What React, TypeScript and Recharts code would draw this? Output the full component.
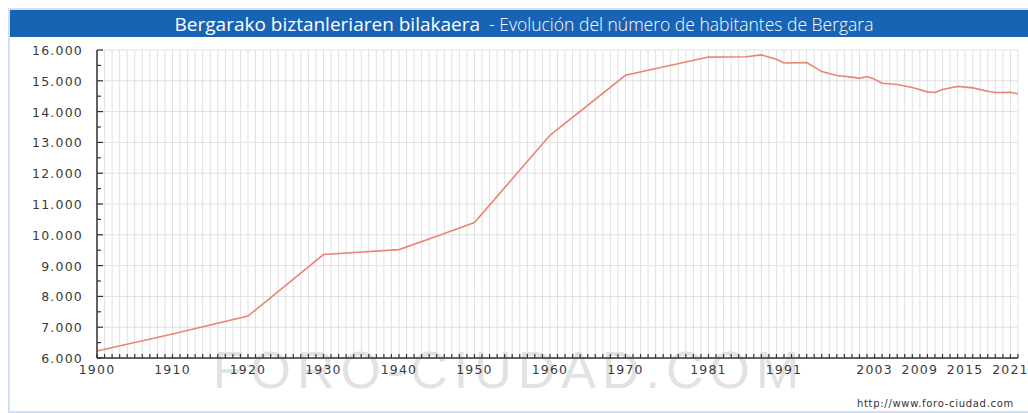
import { LineChart, Line, XAxis, YAxis, CartesianGrid } from "recharts";

// Bergara population
const YEARS = [
  1900, 1910, 1915, 1920, 1930, 1940, 1945, 1950, 1960, 1970, 1981, 1986, 1988,
  1990, 1991, 1994, 1995, 1996, 1998, 2000, 2001, 2002, 2003, 2004, 2006, 2008,
  2010, 2011, 2012, 2014, 2016, 2018, 2019, 2021, 2022,
];
const POPULATION = [
  6230, 6780, 7070, 7360, 9360, 9520, 9950, 10400, 13230, 15180, 15770, 15780,
  15840, 15700, 15580, 15590, 15450, 15300, 15170, 15120, 15080, 15140, 15050,
  14920, 14880, 14780, 14640, 14620, 14720, 14820, 14770, 14660, 14620, 14630,
  14580,
];
const X_LABELS = [
  1900, 1910, 1920, 1930, 1940, 1950, 1960, 1970, 1981, 1991, 2003, 2009, 2015, 2021,
];
const Y_LABELS = [6000, 7000, 8000, 9000, 10000, 11000, 12000, 13000, 14000, 15000, 16000];

const FIRST_YEAR = 1900;
const LAST_YEAR = 2022;

const data = YEARS.map((year, i) => ({ year, population: POPULATION[i] }));
const allYears = Array.from({ length: LAST_YEAR - FIRST_YEAR + 1 }, (_, i) => FIRST_YEAR + i);
const yTicks = [...Y_LABELS, ...Y_LABELS.slice(0, -1).map((v) => v + 500)].sort((a, b) => a - b);

const fmt = (v: number) => `${Math.floor(v / 1000)}.${String(v % 1000).padStart(3, "0")}`;

const tickFont = {
  fontFamily: "DejaVu Sans",
  fontSize: 12.5,
  fill: "#3a3a3a",
  letterSpacing: 1.2,
};

const XTick = (props: any) => {
  const { x, y, payload } = props;
  const labeled = X_LABELS.includes(payload.value);
  return (
    <g>
      <line x1={x} x2={x} y1={y} y2={y - 4} stroke="#333" strokeWidth={1.2} />
      {labeled && (
        <text x={x} y={y + 16} textAnchor="middle" {...tickFont}>
          {payload.value}
        </text>
      )}
    </g>
  );
};

const YTick = (props: any) => {
  const { x, y, payload } = props;
  const major = payload.value % 1000 === 0;
  return (
    <g>
      <line x1={x} x2={x + (major ? 6 : 4)} y1={y} y2={y} stroke="#333" strokeWidth={1.2} />
      {major && (
        <text x={x - 14} y={y + 5} textAnchor="end" {...tickFont}>
          {fmt(payload.value)}
        </text>
      )}
    </g>
  );
};

const App = () => {
  return (
    <div style={{ position: "absolute", left: 0, top: 0, width: 1028, height: 413, background: "#fff", overflow: "hidden" }}>
      <div
        style={{
          position: "absolute",
          left: 8,
          top: 8,
          width: 1040,
          height: 401,
          border: "2px solid #cfe0f2",
        }}
      />
      <div
        style={{
          position: "absolute",
          left: 10,
          top: 10,
          width: 1018,
          height: 27,
          background: "#1863b3",
          color: "#fff",
          display: "flex",
          alignItems: "center",
          justifyContent: "center",
          fontFamily: "Open Sans",
          whiteSpace: "pre",
        }}
      >
        <span style={{ fontSize: 19, paddingLeft: 10 }}>Bergarako biztanleriaren bilakaera</span>
        <span style={{ fontSize: 17.5, fontWeight: 300 }}>{"  - Evolución del número de habitantes de Bergara"}</span>
      </div>
      <div
        style={{
          position: "absolute",
          left: 0,
          width: 1018,
          top: 340,
          textAlign: "center",
          fontFamily: "Liberation Sans",
          fontSize: 52,
          letterSpacing: 6,
          color: "#e2e2e2",
        }}
      >
        FORO-CIUDAD.COM
      </div>
      <div
        style={{
          position: "absolute",
          right: 14,
          top: 398,
          fontFamily: "DejaVu Sans",
          fontSize: 10,
          letterSpacing: 0.7,
          color: "#333",
        }}
      >
        http://www.foro-ciudad.com
      </div>
      <div style={{ position: "absolute", left: 0, top: 0 }}>
        <LineChart width={1028} height={413} data={data} margin={{ top: 50, right: 10, bottom: 0, left: 0 }}>
          <CartesianGrid
            stroke="#e0e0e0"
            verticalCoordinatesGenerator={({ offset }: any) =>
              allYears.map((yr) => offset.left + ((yr - FIRST_YEAR) / (LAST_YEAR - FIRST_YEAR)) * offset.width)
            }
            horizontalCoordinatesGenerator={({ offset }: any) =>
              Y_LABELS.map((v) => offset.top + ((16000 - v) / 10000) * offset.height)
            }
          />
          <XAxis
            dataKey="year"
            type="number"
            domain={[FIRST_YEAR, LAST_YEAR]}
            ticks={allYears}
            interval={0}
            tickSize={0}
            tickMargin={0}
            height={55}
            axisLine={{ stroke: "#333", strokeWidth: 1.5 }}
            tick={<XTick />}
          />
          <YAxis
            type="number"
            domain={[6000, 16000]}
            ticks={yTicks}
            interval={0}
            tickSize={0}
            tickMargin={0}
            width={97}
            axisLine={{ stroke: "#333", strokeWidth: 1.5 }}
            tick={<YTick />}
          />
          <Line
            type="linear"
            dataKey="population"
            stroke="#ec8474"
            strokeWidth={1.6}
            dot={false}
            isAnimationActive={false}
          />
        </LineChart>
      </div>
    </div>
  );
};

export default App;
